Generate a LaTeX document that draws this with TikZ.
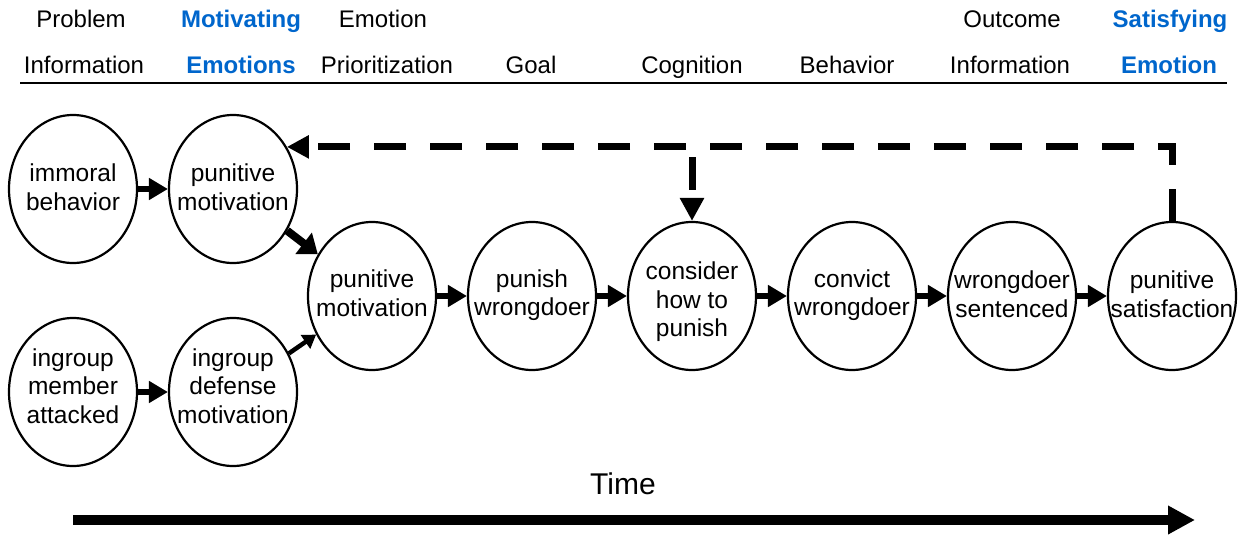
\documentclass[tikz,border=0pt]{standalone}
\usepackage{fontspec}
\setmainfont{Liberation Sans}
\usetikzlibrary{arrows.meta,shapes.geometric}
\definecolor{hblue}{RGB}{0,102,204}
\begin{document}
\begin{tikzpicture}[x=1pt,y=-1pt,
  ell/.style={draw,ellipse,line width=2.2pt,minimum width=128pt,minimum height=148pt,inner sep=0pt},
  etext/.style={align=center,font=\fontsize{24.5}{28.5}\selectfont,inner sep=0pt},
  hdr/.style={font=\fontsize{24}{28}\selectfont,anchor=base,inner sep=0pt},
  hdrb/.style={font=\fontsize{24}{28}\selectfont\bfseries,anchor=base,inner sep=0pt,text=hblue},
  flow/.style={line width=6.5pt,-{Triangle[length=19pt,width=21pt]}},
  fback/.style={line width=7pt,dash pattern=on 32pt off 24pt,-{Triangle[length=22pt,width=22pt]}},
  timearrow/.style={line width=10pt,-{Triangle[length=27pt,width=27pt]}}]
\useasboundingbox (0,0) rectangle (1238,535);
% headers
\node[hdr]  (h1a) at (81,28) {Problem};
\node[hdr]  (h1b) at (84,74) {Information};
\node[hdrb] (h2a) at (241,28) {Motivating};
\node[hdrb] (h2b) at (241,74) {Emotions};
\node[hdr]  (h3a) at (383,28) {Emotion};
\node[hdr]  (h3b) at (387,74) {Prioritization};
\node[hdr]  (h4b) at (531,74) {Goal};
\node[hdr]  (h5b) at (692,74) {Cognition};
\node[hdr]  (h6b) at (847,74) {Behavior};
\node[hdr]  (h7a) at (1012,28) {Outcome};
\node[hdr]  (h7b) at (1010,74) {Information};
\node[hdrb] (h8a) at (1170,28) {Satisfying};
\node[hdrb] (h8b) at (1169,74) {Emotion};
\coordinate (r0) at (20,83);
\coordinate (r1) at (1227,83);
\draw[line width=2pt] (r0) -- (r1);
% ellipses
\node[ell] (ib)  at (73,189) {};
\node[ell] (tpm) at (233,189) {};
\node[ell] (ima) at (73,392) {};
\node[ell] (idm) at (233,392) {};
\node[ell] (pm)  at (372,296) {};
\node[ell] (pw)  at (532,296) {};
\node[ell] (ch)  at (692,296) {};
\node[ell] (cw)  at (852,296) {};
\node[ell] (ws)  at (1012,296) {};
\node[ell] (ps)  at (1172,296) {};
% texts
\node[etext] (ibt)  at ([yshift=2pt]ib.center)  {immoral\\behavior};
\node[etext] (tpmt) at ([yshift=2pt]tpm.center) {punitive\\motivation};
\node[etext] (imat) at ([yshift=6pt]ima.center) {ingroup\\member\\attacked};
\node[etext] (idmt) at ([yshift=6pt]idm.center) {ingroup\\defense\\motivation};
\node[etext] (pmt)  at ([yshift=3pt]pm.center)  {punitive\\motivation};
\node[etext] (pwt)  at ([yshift=1pt]pw.center)  {punish\\wrongdoer};
\node[etext] (cht)  at ([yshift=-6pt]ch.center) {consider\\how to\\punish};
\node[etext] (cwt)  at ([yshift=1pt]cw.center)  {convict\\wrongdoer};
\node[etext] (wst)  at ([yshift=2pt]ws.center)  {wrongdoer\\sentenced};
\node[etext] (pst)  at ([yshift=2pt]ps.center)  {punitive\\satisfaction};
% arrows
\draw[flow] (ib) -- (tpm);
\draw[flow] (ima) -- (idm);
\draw[line width=8pt,-{Triangle[length=18pt,width=26pt]}] (tpm) -- (pm);
\draw[line width=4.5pt,-{Triangle[length=13pt,width=16pt]}] (idm) -- (pm);
\draw[flow] (pm) -- (pw);
\draw[flow] (pw) -- (ch);
\draw[flow] (ch) -- (cw);
\draw[flow] (cw) -- (ws);
\draw[flow] (ws) -- (ps);
% feedback
\coordinate (fb) at (tpm.38);
\draw[fback] (ps.north) |- (fb);
\coordinate (vs) at (ch.north |- 0,157);
\draw[line width=7pt,dash pattern=on 33pt off 20pt,-{Triangle[length=23pt,width=23pt]}] (vs) -- (ch.north);
% time
\coordinate (t0) at (73,520);
\coordinate (t1) at (1195,520);
\draw[timearrow] (t0) -- (t1);
\node[font=\fontsize{30}{36}\selectfont,inner sep=0pt] (time) at (623,484) {Time};
\end{tikzpicture}
\end{document}
